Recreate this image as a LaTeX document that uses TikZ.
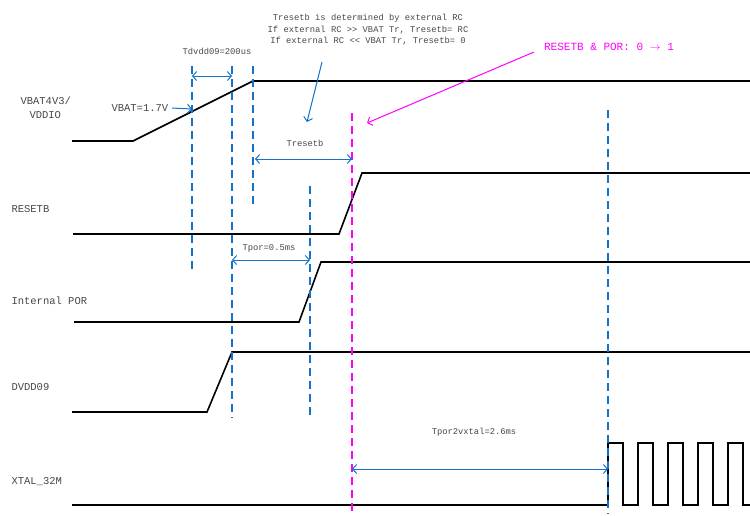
\documentclass[tikz,border=0pt]{standalone}
\usepackage{fontspec}
\setmainfont{Liberation Mono}
\usepackage{xcolor}
\definecolor{myblue}{RGB}{20,115,200}
\definecolor{mymagenta}{RGB}{255,0,255}
\colorlet{mygray}{black!72}
\usepackage{tikz}
\usetikzlibrary{arrows.meta}

\begin{document}
\begin{tikzpicture}[x=1pt,y=-1pt,
    signal/.style={line width=1.6pt},
    marker/.style={myblue, line width=1.3pt, dash pattern=on 8pt off 5pt},
    spanarrow/.style={myblue, line width=1pt, {Straight Barb[length=4pt,width=9pt]}-{Straight Barb[length=4pt,width=9pt]}},
    notearrow/.style={line width=1pt, -{Straight Barb[length=4pt,width=9pt]}},
    tlabel/.style={text=mygray, font=\fontsize{8.8}{11.5}\selectfont},
    siglabel/.style={text=mygray, anchor=west, font=\fontsize{10.5}{14}\selectfont}]
  \useasboundingbox (0,0) rectangle (750,515);

  \node[siglabel, align=left] (vbatname) at (17,108) {VBAT4V3/\\\hspace{9pt}VDDIO};
  \node[siglabel] (resetbname) at (8,209) {RESETB};
  \node[siglabel] (porname) at (8,301) {Internal POR};
  \node[siglabel] (dvddname) at (8,387) {DVDD09};
  \node[siglabel] (xtalname) at (8,482) {XTAL\_32M};

  \draw[signal] (72,141) -- (133,141) -- (253,81) -- (750,81);
  \draw[signal] (73,234) -- (339,234) -- (362,173) -- (750,173);
  \draw[signal] (74,322) -- (299,322) -- (321,262) -- (750,262);
  \draw[signal] (72,412) -- (207,412) -- (232,352) -- (750,352);
  \draw[signal] (72,505) -- (608,505)
    foreach \i in {0,...,4}{ -- ++(0,-62) -- ++(15,0) -- ++(0,62) -- ++(15,0)};

  \draw[marker] (192,66) -- (192,273);
  \draw[marker] (232,66) -- (232,418);
  \draw[marker] (253,66) -- (253,205);
  \draw[marker] (310,186) -- (310,418);
  \draw[marker] (608,110) -- (608,514);
  \draw[marker, mymagenta] (352,113) -- (352,515);

  \coordinate (T0) at (192,76);
  \coordinate (T1) at (232,76);
  \draw[spanarrow] (T0) -- (T1);
  \node[tlabel] (tdvdd) at (217,51) {Tdvdd09=200us};

  \coordinate (R0) at (255,159);
  \coordinate (R1) at (352,159);
  \draw[spanarrow] (R0) -- (R1);
  \node[tlabel] (treset) at (305,143) {Tresetb};

  \coordinate (P0) at (232,260);
  \coordinate (P1) at (310,260);
  \draw[spanarrow] (P0) -- (P1);
  \node[tlabel] (tpor) at (269,248) {Tpor=0.5ms};

  \coordinate (X0) at (352,469);
  \coordinate (X1) at (608,469);
  \draw[spanarrow] (X0) -- (X1);
  \node[tlabel] (txtal) at (474,432) {Tpor2vxtal=2.6ms};

  \node[siglabel] (vbatlvl) at (108,108) {VBAT=1.7V};
  \coordinate (V1) at (192,109);
  \draw[notearrow, myblue] (vbatlvl.east) -- (V1);

  \node[tlabel, align=center] (note) at (368,30)
    {Tresetb is determined by external RC\\
     If external RC >{}> VBAT Tr, Tresetb= RC\\
     If external RC <{}< VBAT Tr, Tresetb= 0};
  \coordinate (N0) at (322,62);
  \coordinate (N1) at (307,122);
  \draw[notearrow, myblue] (N0) -- (N1);

  \node[text=mymagenta, font=\fontsize{11}{13}\selectfont] (por) at (609,47)
    {RESETB \& POR: 0 $\rightarrow$ 1};
  \coordinate (M0) at (534,52);
  \coordinate (M1) at (367,123);
  \draw[notearrow, mymagenta] (M0) -- (M1);
\end{tikzpicture}
\end{document}
